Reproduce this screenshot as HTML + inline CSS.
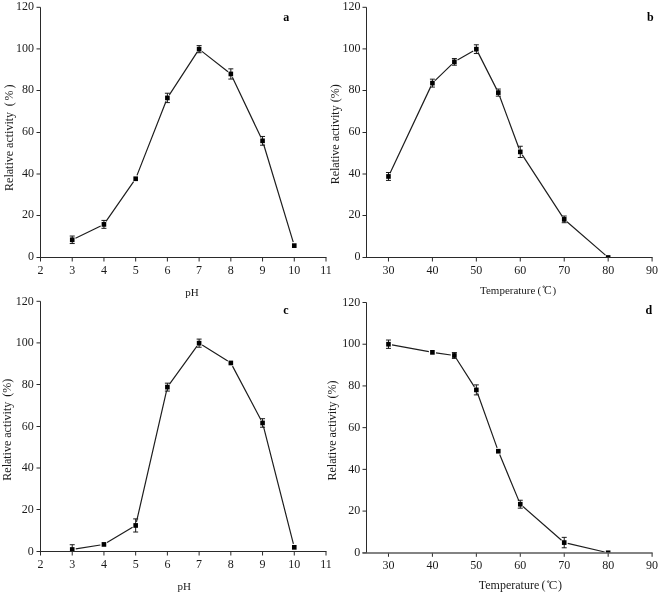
<!DOCTYPE html>
<html><head><meta charset="utf-8"><style>
html,body{margin:0;padding:0;background:#fff;}
svg{display:block;will-change:transform;}
text{font-family:"Liberation Serif", serif;fill:#1a1a1a;}
.ax{stroke:#2a2a2a;stroke-width:1;fill:none;}
.ln{stroke:#1e1e1e;stroke-width:1.2;fill:none;}
.eb{stroke:#1a1a1a;stroke-width:1;fill:none;}
.mk rect{fill:#000;}
.yl{font-size:12px;text-anchor:end;}
.xl{font-size:12px;text-anchor:middle;}
.al{font-size:12px;}
.xt{font-size:11px;}
.pl{font-size:12px;font-weight:bold;fill:#000;}
.deg{fill:none;stroke:#222;stroke-width:0.7;}
</style></head><body>
<svg width="660" height="594" viewBox="0 0 660 594">
<path d="M40.5 7.3V257.5" class="ax"/>
<path d="M36.5 257.5H40.5M36.5 215.5H40.5M36.5 174H40.5M36.5 132.5H40.5M36.5 90.5H40.5M36.5 48.9H40.5M36.5 7.3H40.5M40.5 257.5V261.5M72.22 257.5V261.5M103.94 257.5V261.5M135.67 257.5V261.5M167.39 257.5V261.5M199.11 257.5V261.5M230.83 257.5V261.5M262.56 257.5V261.5M294.28 257.5V261.5M326 257.5V261.5" class="ax"/>
<text x="34" y="260.3" class="yl">0</text>
<text x="34" y="218.3" class="yl">20</text>
<text x="34" y="176.8" class="yl">40</text>
<text x="34" y="135.3" class="yl">60</text>
<text x="34" y="93.3" class="yl">80</text>
<text x="34" y="51.7" class="yl">100</text>
<text x="34" y="10.1" class="yl">120</text>
<text x="40.5" y="273.5" class="xl">2</text>
<text x="72.22" y="273.5" class="xl">3</text>
<text x="103.94" y="273.5" class="xl">4</text>
<text x="135.67" y="273.5" class="xl">5</text>
<text x="167.39" y="273.5" class="xl">6</text>
<text x="199.11" y="273.5" class="xl">7</text>
<text x="230.83" y="273.5" class="xl">8</text>
<text x="262.56" y="273.5" class="xl">9</text>
<text x="294.28" y="273.5" class="xl">10</text>
<text x="326" y="273.5" class="xl">11</text>
<clipPath id="cpa"><rect x="30.5" y="-2.7" width="305.5" height="260.2"/></clipPath>
<g clip-path="url(#cpa)">
<path d="M75.46 238.22L100.71 225.95M106 221.42L133.61 181.71M136.98 175.4L166.07 101.27M169.35 94.9L197.15 52.18M201.95 51.38L228 71.74M232.38 77.21L261.01 137.58M263.6 144.28L293.23 242.18" class="ln"/>
<path d="M72.22 236.04V243.54M69.72 236.04H74.72M69.72 243.54H74.72M103.94 220.42V228.33M101.44 220.42H106.44M101.44 228.33H106.44M167.39 93.23V102.6M164.89 93.23H169.89M164.89 102.6H169.89M199.11 45.62V52.71M196.61 45.62H201.61M196.61 52.71H201.61M230.83 68.85V79.06M228.33 68.85H233.33M228.33 79.06H233.33M262.56 136.46V145.21M260.06 136.46H265.06M260.06 145.21H265.06" class="eb"/>
<g class="mk"><rect x="69.92" y="237.44" width="4.6" height="4.7"/><rect x="101.64" y="222.03" width="4.6" height="4.7"/><rect x="133.37" y="176.4" width="4.6" height="4.7"/><rect x="165.09" y="95.57" width="4.6" height="4.7"/><rect x="196.81" y="46.82" width="4.6" height="4.7"/><rect x="228.53" y="71.61" width="4.6" height="4.7"/><rect x="260.26" y="138.48" width="4.6" height="4.7"/><rect x="291.98" y="243.28" width="4.6" height="4.7"/></g>
</g>
<path d="M40 257.5H326.5" class="ax"/>
<path d="M366.5 7.3V257.5" class="ax"/>
<path d="M362.5 257.5H366.5M362.5 215.5H366.5M362.5 174H366.5M362.5 132.5H366.5M362.5 90.5H366.5M362.5 48.9H366.5M362.5 7.3H366.5M388.47 257.5V261.5M432.41 257.5V261.5M476.35 257.5V261.5M520.28 257.5V261.5M564.22 257.5V261.5M608.16 257.5V261.5M652.1 257.5V261.5" class="ax"/>
<text x="360.4" y="260.3" class="yl">0</text>
<text x="360.4" y="218.3" class="yl">20</text>
<text x="360.4" y="176.8" class="yl">40</text>
<text x="360.4" y="135.3" class="yl">60</text>
<text x="360.4" y="93.3" class="yl">80</text>
<text x="360.4" y="51.7" class="yl">100</text>
<text x="360.4" y="10.1" class="yl">120</text>
<text x="388.47" y="273.6" class="xl">30</text>
<text x="432.41" y="273.6" class="xl">40</text>
<text x="476.35" y="273.6" class="xl">50</text>
<text x="520.28" y="273.6" class="xl">60</text>
<text x="564.22" y="273.6" class="xl">70</text>
<text x="608.16" y="273.6" class="xl">80</text>
<text x="652.1" y="273.6" class="xl">90</text>
<clipPath id="cpb"><rect x="356.5" y="-2.7" width="305.6" height="260.2"/></clipPath>
<g clip-path="url(#cpb)">
<path d="M390 173.2L430.87 86.38M435 80.62L451.79 64.38M457.49 60.07L473.23 50.97M477.97 52.38L496.69 89.39M499.57 95.98L519.03 148.5M522.25 154.89L562.26 216.36M566.94 221.73L605.44 255.14" class="ln"/>
<path d="M388.47 172.5V180.42M385.97 172.5H390.97M385.97 180.42H390.97M432.41 79.17V87.08M429.91 79.17H434.91M429.91 87.08H434.91M454.38 58.54V65.21M451.88 58.54H456.88M451.88 65.21H456.88M476.35 44.79V53.54M473.85 44.79H478.85M473.85 53.54H478.85M498.32 89.06V96.15M495.82 89.06H500.82M495.82 96.15H500.82M520.28 146.25V157.5M517.78 146.25H522.78M517.78 157.5H522.78M564.22 216.04V222.71M561.72 216.04H566.72M561.72 222.71H566.72" class="eb"/>
<g class="mk"><rect x="386.17" y="174.11" width="4.6" height="4.7"/><rect x="430.11" y="80.77" width="4.6" height="4.7"/><rect x="452.08" y="59.52" width="4.6" height="4.7"/><rect x="474.05" y="46.82" width="4.6" height="4.7"/><rect x="496.02" y="90.25" width="4.6" height="4.7"/><rect x="517.98" y="149.53" width="4.6" height="4.7"/><rect x="561.92" y="217.03" width="4.6" height="4.7"/><rect x="605.86" y="255.15" width="4.6" height="4.7"/></g>
</g>
<path d="M366 257.5H652.6" class="ax"/>
<path d="M40.5 301.3V551.5" class="ax"/>
<path d="M36.5 551.5H40.5M36.5 509.5H40.5M36.5 468H40.5M36.5 426.5H40.5M36.5 384.5H40.5M36.5 342.9H40.5M36.5 301.3H40.5M40.5 551.5V555.5M72.22 551.5V555.5M103.94 551.5V555.5M135.67 551.5V555.5M167.39 551.5V555.5M199.11 551.5V555.5M230.83 551.5V555.5M262.56 551.5V555.5M294.28 551.5V555.5M326 551.5V555.5" class="ax"/>
<text x="33.7" y="554.8" class="yl">0</text>
<text x="33.7" y="512.8" class="yl">20</text>
<text x="33.7" y="471.3" class="yl">40</text>
<text x="33.7" y="429.8" class="yl">60</text>
<text x="33.7" y="387.8" class="yl">80</text>
<text x="33.7" y="346.2" class="yl">100</text>
<text x="33.7" y="304.6" class="yl">120</text>
<text x="40.5" y="567.9" class="xl">2</text>
<text x="72.22" y="567.9" class="xl">3</text>
<text x="103.94" y="567.9" class="xl">4</text>
<text x="135.67" y="567.9" class="xl">5</text>
<text x="167.39" y="567.9" class="xl">6</text>
<text x="199.11" y="567.9" class="xl">7</text>
<text x="230.83" y="567.9" class="xl">8</text>
<text x="262.56" y="567.9" class="xl">9</text>
<text x="294.28" y="567.9" class="xl">10</text>
<text x="326" y="567.9" class="xl">11</text>
<clipPath id="cpc"><rect x="30.5" y="291.3" width="305.5" height="260.2"/></clipPath>
<g clip-path="url(#cpc)">
<path d="M75.78 548.95L100.39 544.99M107.03 542.57L132.58 527.31M136.47 521.95L166.58 390.63M169.5 384.21L197 346.09M202.17 345.07L227.78 361.05M232.52 366.14L260.87 419.78M263.45 426.45L293.39 543.85" class="ln"/>
<path d="M72.22 544.73V554.31M69.72 544.73H74.72M69.72 554.31H74.72M135.67 518.9V532.02M133.17 518.9H138.17M133.17 532.02H138.17M167.39 383.17V391.08M164.89 383.17H169.89M164.89 391.08H169.89M199.11 339.1V347.23M196.61 339.1H201.61M196.61 347.23H201.61M262.56 418.69V427.23M260.06 418.69H265.06M260.06 427.23H265.06" class="eb"/>
<g class="mk"><rect x="69.92" y="547.17" width="4.6" height="4.7"/><rect x="101.64" y="542.07" width="4.6" height="4.7"/><rect x="133.37" y="523.11" width="4.6" height="4.7"/><rect x="165.09" y="384.77" width="4.6" height="4.7"/><rect x="196.81" y="340.82" width="4.6" height="4.7"/><rect x="228.53" y="360.61" width="4.6" height="4.7"/><rect x="260.26" y="420.61" width="4.6" height="4.7"/><rect x="291.98" y="544.98" width="4.6" height="4.7"/></g>
</g>
<path d="M40 551.5H326.5" class="ax"/>
<path d="M366.5 302.5V553" class="ax"/>
<path d="M362.5 552.8H366.5M362.5 511.08H366.5M362.5 469.37H366.5M362.5 427.65H366.5M362.5 385.93H366.5M362.5 344.22H366.5M362.5 302.5H366.5M388.47 552.8V556.8M432.41 552.8V556.8M476.35 552.8V556.8M520.28 552.8V556.8M564.22 552.8V556.8M608.16 552.8V556.8M652.1 552.8V556.8" class="ax"/>
<text x="360.2" y="556" class="yl">0</text>
<text x="360.2" y="514.28" class="yl">20</text>
<text x="360.2" y="472.57" class="yl">40</text>
<text x="360.2" y="430.85" class="yl">60</text>
<text x="360.2" y="389.13" class="yl">80</text>
<text x="360.2" y="347.42" class="yl">100</text>
<text x="360.2" y="305.7" class="yl">120</text>
<text x="388.47" y="568.8" class="xl">30</text>
<text x="432.41" y="568.8" class="xl">40</text>
<text x="476.35" y="568.8" class="xl">50</text>
<text x="520.28" y="568.8" class="xl">60</text>
<text x="564.22" y="568.8" class="xl">70</text>
<text x="608.16" y="568.8" class="xl">80</text>
<text x="652.1" y="568.8" class="xl">90</text>
<clipPath id="cpd"><rect x="356.5" y="292.5" width="305.6" height="260.3"/></clipPath>
<g clip-path="url(#cpd)">
<path d="M392.01 344.87L428.87 351.7M435.97 352.86L450.81 354.97M456.31 358.51L474.41 386.86M477.56 393.29L497.1 447.83M499.69 454.55L518.91 500.87M523 506.57L561.51 540.21M567.73 543.4L604.66 551.98" class="ln"/>
<path d="M388.47 340.04V348.39M385.97 340.04H390.97M385.97 348.39H390.97M454.38 352.56V358.4M451.88 352.56H456.88M451.88 358.4H456.88M476.35 384.89V394.9M473.85 384.89H478.85M473.85 394.9H478.85M520.28 500.24V508.16M517.78 500.24H522.78M517.78 508.16H522.78M564.22 537.36V547.79M561.72 537.36H566.72M561.72 547.79H566.72" class="eb"/>
<g class="mk"><rect x="386.17" y="341.87" width="4.6" height="4.7"/><rect x="430.11" y="350" width="4.6" height="4.7"/><rect x="452.08" y="353.13" width="4.6" height="4.7"/><rect x="474.05" y="387.55" width="4.6" height="4.7"/><rect x="496.02" y="448.87" width="4.6" height="4.7"/><rect x="517.98" y="501.85" width="4.6" height="4.7"/><rect x="561.92" y="540.23" width="4.6" height="4.7"/><rect x="605.86" y="550.45" width="4.6" height="4.7"/></g>
</g>
<path d="M362.5 553H652.6" class="ax" style="stroke-width:1.7;stroke:#5a5a5a"/>
<text transform="translate(13,190.9) rotate(-90)" class="al">Relative activity<tspan dx="5.7">(</tspan><tspan dx="1.8">%</tspan><tspan dx="2">)</tspan></text>
<text transform="translate(338.9,184.3) rotate(-90)" class="al">Relative activity (%)</text>
<text transform="translate(11.4,480.7) rotate(-90)" class="al">Relative activity<tspan dx="4.9">(%)</tspan></text>
<text transform="translate(336.4,480.5) rotate(-90)" class="al">Relative activity (%)</text>
<text x="185.3" y="296.1" class="xt">pH</text>
<text x="177.6" y="589.6" class="xt">pH</text>
<text x="480.0" y="293.8" class="xt">Temperature</text>
<text x="537.5" y="293.8" class="xt">(</text>
<circle cx="543.65" cy="286.75" r="0.8" class="deg"/>
<text x="543.9" y="293.9" class="xt" style="font-size:11.5px">C</text>
<text x="552.5" y="293.8" class="xt">)</text>
<text x="478.8" y="589.2" class="xt" style="font-size:12px">Temperature</text>
<text x="541.6" y="589.2" class="xt" style="font-size:12px">(</text>
<circle cx="548.25" cy="581.6" r="0.85" class="deg"/>
<text x="548.7" y="589.2" class="xt" style="font-size:12.8px">C</text>
<text x="557.9" y="589.2" class="xt" style="font-size:12px">)</text>
<text x="283.2" y="20.95" class="pl">a</text>
<text x="647.0" y="21.1" class="pl">b</text>
<text x="283.2" y="313.8" class="pl">c</text>
<text x="645.6" y="313.5" class="pl">d</text>
</svg>
</body></html>
